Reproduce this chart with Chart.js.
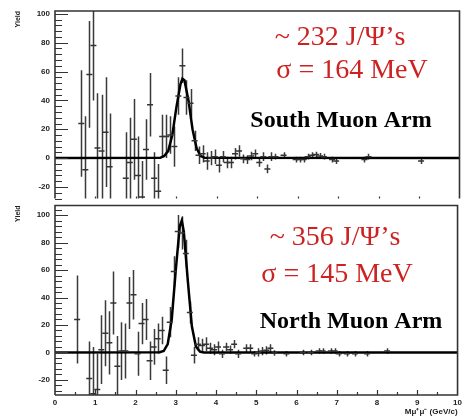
<!DOCTYPE html>
<html>
<head>
<meta charset="utf-8">
<script src="https://cdn.jsdelivr.net/npm/chart.js@4.4.1/dist/chart.umd.min.js"></script>
<style>
  body { margin: 0; background: #fff; width: 465px; height: 420px; overflow: hidden; position: relative; }
  .pane { position: absolute; left: 0; width: 465px; }
</style>
</head>
<body>
<div class="pane" style="top:0;height:204px"><canvas id="south" width="465" height="204"></canvas></div>
<div class="pane" style="top:200px;height:220px"><canvas id="north" width="465" height="220"></canvas></div>
<script>
// --- South arm: dimuon mass bins (GeV/c^2), yield and error ---
const southMass = [0.65, 0.75, 0.85, 0.95, 1.05, 1.15, 1.25, 1.35, 1.75, 1.85, 1.95, 2.05, 2.15, 2.25, 2.35, 2.45,
  2.55, 2.65, 2.75, 2.85, 2.95, 3.05, 3.15, 3.25, 3.35, 3.45, 3.55, 3.65, 3.75, 3.85, 3.95, 4.05, 4.15, 4.25,
  4.35, 4.45, 4.55, 4.65, 4.75, 4.85, 4.95, 5.05, 5.15, 5.25, 5.35, 5.45, 5.65, 5.95, 6.05, 6.15, 6.25, 6.35,
  6.45, 6.55, 6.65, 6.85, 6.95, 7.65, 7.75, 9.05];
const southYield = [24, -8, 58, 78, 7, 5, 18, -6, -14, -3, 13, -12, -27, 6, 37, -14,
  -23, 15, 15, 16, 8, 43, 64, 42, 38, 12, 2, 3, -2, 0, 1, -5, 1, -3,
  -3, 3, 5, -0.5, -1, 1.5, 3, -3, 1, -7.5, 1, 1, 2, -1, -1, -1, 1, 2,
  2.5, 1.5, 1, -1, -2, -1, 1, -2];
const southErr = [37, 37, 37, 38, 38, 39, 38, 37, 32, 31, 28, 27, 25, 21, 22, 18,
  19, 15, 15, 13, 14, 13, 12, 12, 10, 7, 6, 6, 6, 5, 5, 5, 4, 4,
  4, 4, 4, 3, 3, 3, 3, 3, 3, 3, 3, 2, 2, 2, 2, 2, 2, 2,
  2, 2, 2, 2, 2, 2, 2, 2];
const southFitMass = [0, 2.6, 2.7, 2.8, 2.9, 3.0, 3.1, 3.15, 3.2, 3.3, 3.4, 3.5, 3.6, 3.7, 10];
const southFitYield = [0, 0.2, 1.5, 5, 16, 35, 51, 55, 54, 40, 20, 7, 1.5, 0.2, 0];

// --- North arm ---
const northMass = [0.55, 0.85, 0.95, 1.05, 1.15, 1.25, 1.35, 1.45, 1.55, 1.65, 1.75, 1.85, 1.95, 2.05, 2.15, 2.25,
  2.35, 2.45, 2.55, 2.65, 2.75, 2.85, 2.95, 3.05, 3.15, 3.25, 3.35, 3.45, 3.55, 3.65, 3.75, 3.85, 3.95, 4.05,
  4.15, 4.25, 4.35, 4.45, 4.55, 4.75, 4.85, 4.95, 5.05, 5.15, 5.25, 5.35, 5.45, 5.75, 6.15, 6.35, 6.55, 6.65,
  6.85, 6.95, 7.05, 7.25, 7.45, 7.75, 8.25];
const northYield = [24, -19, -30, -27, 2, 14, 7, 36, -10, 1, 1, 36, 42, -1, 21, 24,
  -6, 4, 10, 16, -13, 22, 59, 88, 87, 72, 29, -2, 6, 5, 6, 3, 2, 4,
  -1, 4, 2, 6, -1, 3, 3, -1, 0, 1, 1.5, 3, -0.5, -1, 0, 0, 1, 1,
  1, 1, -1, -1, -1, -1, 1];
const northErr = [32, 27, 34, 26, 25, 24, 23, 23, 22, 21, 20, 19, 18, 16, 15, 15,
  14, 13, 11, 10, 10, 11, 11, 12, 12, 10, 8, 6, 5, 5, 5, 4, 4, 4,
  3, 3, 3, 3, 3, 3, 3, 2, 3, 3, 3, 3, 2, 2, 2, 2, 2, 2,
  2, 2, 2, 2, 2, 2, 2];
const northFitMass = [0, 2.6, 2.7, 2.8, 2.9, 3.0, 3.1, 3.15, 3.2, 3.3, 3.4, 3.5, 3.6, 3.7, 10];
const northFitYield = [0, 0.1, 1, 6, 24, 60, 92, 96, 88, 52, 19, 4.4, 0.6, 0, 0];

const massTicks = [0, 1, 2, 3, 4, 5, 6, 7, 8, 9, 10];

// small line height keeps the axis from padding the frame
const AXIS_FONT = { family: 'Liberation Sans', size: 8, weight: 'bold', lineHeight: 0.5 };
const INK = '#222';

// vertical error bars, clipped to the frame
const errorBars = {
  id: 'errorBars',
  beforeDatasetsDraw(chart) {
    const { ctx, chartArea: a, scales: { x, y } } = chart;
    ctx.save();
    ctx.beginPath();
    ctx.rect(a.left, a.top, a.right - a.left, a.bottom - a.top);
    ctx.clip();
    ctx.strokeStyle = '#3a3a3a';
    ctx.lineWidth = 1.5;
    chart.data.datasets.forEach(ds => {
      if (!ds.errors) return;
      ds.data.forEach((p, i) => {
        const px = Math.round(x.getPixelForValue(p.x)) + 0.5;
        ctx.beginPath();
        ctx.moveTo(px, y.getPixelForValue(p.y - ds.errors[i]));
        ctx.lineTo(px, y.getPixelForValue(p.y + ds.errors[i]));
        ctx.stroke();
      });
    });
    ctx.restore();
  }
};

// ROOT-like frame with inward ticks
const frame = {
  id: 'frame',
  afterDatasetsDraw(chart, args, opts) {
    const { ctx, chartArea: a, scales: { x, y } } = chart;
    ctx.save();
    ctx.strokeStyle = '#333';
    ctx.lineWidth = 1.6;
    ctx.beginPath();
    ctx.moveTo(a.left, a.bottom);
    ctx.lineTo(a.left, a.top);
    ctx.lineTo(a.right, a.top);
    ctx.lineTo(a.right, a.bottom);
    if (opts.bottomLine) ctx.lineTo(a.left, a.bottom);
    ctx.stroke();

    ctx.lineWidth = 1.2;
    ctx.beginPath();
    for (let v = Math.ceil(y.min / 4) * 4; v <= y.max; v += 4) {
      const py = Math.round(y.getPixelForValue(v)) + 0.5;
      const len = v % 20 === 0 ? 13 : 7;
      ctx.moveTo(a.left, py);
      ctx.lineTo(a.left + len, py);
    }
    for (let v = 0.5; v < 10; v += 0.5) {
      const px = Math.round(x.getPixelForValue(v)) + 0.5;
      const len = Number.isInteger(v) ? opts.xMajor : opts.xMinor;
      if (!len) continue;
      ctx.moveTo(px, a.bottom);
      ctx.lineTo(px, a.bottom - len);
    }
    ctx.stroke();
    ctx.restore();
  }
};

// text blocks inside the pads
const notes = {
  id: 'notes',
  afterDraw(chart, args, opts) {
    const ctx = chart.ctx;
    ctx.save();
    ctx.textAlign = 'center';
    ctx.textBaseline = 'alphabetic';
    (opts.items || []).forEach(n => {
      ctx.font = n.font;
      ctx.fillStyle = n.color;
      ctx.fillText(n.text, n.x, n.y);
    });
    ctx.restore();
  }
};

function makeChart(id, cfg) {
  const pts = cfg.mass.map((m, i) => ({ x: m, y: cfg.yield[i] }));
  const fit = cfg.fitMass.map((m, i) => ({ x: m, y: cfg.fitYield[i] }));
  return new Chart(document.getElementById(id), {
    type: 'scatter',
    data: {
      datasets: [
        {
          data: pts,
          errors: cfg.err,
          pointStyle: 'line',
          pointRadius: 3,
          borderColor: '#333',
          borderWidth: 1.5
        },
        {
          type: 'line',
          data: fit,
          borderColor: '#000',
          borderWidth: 2.5,
          pointRadius: 0,
          tension: 0
        }
      ]
    },
    options: {
      responsive: false,
      animation: false,
      events: [],
      layout: { padding: cfg.padding },
      plugins: {
        legend: { display: false },
        tooltip: { enabled: false },
        frame: cfg.frame,
        notes: { items: cfg.notes }
      },
      scales: {
        x: Object.assign({
          type: 'linear',
          min: 0,
          max: 10,
          border: { display: false },
          grid: { display: false, drawTicks: false }
        }, cfg.xAxis),
        y: {
          min: cfg.yMin,
          max: cfg.yMax,
          afterFit: s => { s.width = 55; },
          border: { display: false },
          grid: { display: false, drawTicks: true, tickLength: 5 },
          ticks: { stepSize: 20, includeBounds: false, padding: 0, color: INK, font: AXIS_FONT },
          title: {
            display: true,
            text: 'Yield',
            align: 'end',
            color: INK,
            font: { family: 'Liberation Sans', size: 7, weight: 'bold' },
            padding: { top: 14, bottom: 0 }
          }
        }
      }
    },
    plugins: [errorBars, frame, notes]
  });
}

const RED = '#cc2222';
const SERIF = '28px "Liberation Serif"';
const BOLD_SERIF = 'bold 24px "Liberation Serif"';

makeChart('south', {
  mass: southMass, yield: southYield, err: southErr,
  fitMass: southFitMass, fitYield: southFitYield,
  yMin: -28, yMax: 102,
  padding: { top: 11, bottom: 0, right: 5, left: 0 },
  // unlabeled mass axis: only a thin strip under the frame
  xAxis: {
    ticks: { display: false },
    afterFit: s => { s.height = 0; }
  },
  frame: { bottomLine: false, xMajor: 2, xMinor: 0 },
  notes: [
    { text: '~ 232 J/Ψ’s', x: 340, y: 45, color: RED, font: SERIF },
    { text: 'σ = 164 MeV', x: 352, y: 78, color: RED, font: SERIF },
    { text: 'South Muon Arm', x: 341, y: 127, color: '#000', font: BOLD_SERIF }
  ]
});

makeChart('north', {
  mass: northMass, yield: northYield, err: northErr,
  fitMass: northFitMass, fitYield: northFitYield,
  yMin: -31, yMax: 107,
  padding: { top: 4, bottom: 0, right: 5, left: 0 },
  xAxis: {
    afterFit: s => { s.height = 25; },
    afterBuildTicks: s => { s.ticks = massTicks.map(v => ({ value: v })); },
    ticks: { padding: 3, maxRotation: 0, autoSkip: false, color: INK,
      font: { family: 'Liberation Sans', size: 8, weight: 'bold' } },
    title: {
      display: true,
      text: 'Mμ⁺μ⁻ (GeV/c)',
      align: 'end',
      color: INK,
      font: { family: 'Liberation Sans', size: 8, weight: 'bold' },
      padding: { top: 0, bottom: 3 }
    }
  },
  frame: { bottomLine: true, xMajor: 5, xMinor: 3 },
  notes: [
    { text: '~ 356 J/Ψ’s', x: 335, y: 45, color: RED, font: SERIF },
    { text: 'σ = 145 MeV', x: 337, y: 82, color: RED, font: SERIF },
    { text: 'North Muon Arm', x: 351, y: 128, color: '#000', font: BOLD_SERIF }
  ]
});
</script>
</body>
</html>
